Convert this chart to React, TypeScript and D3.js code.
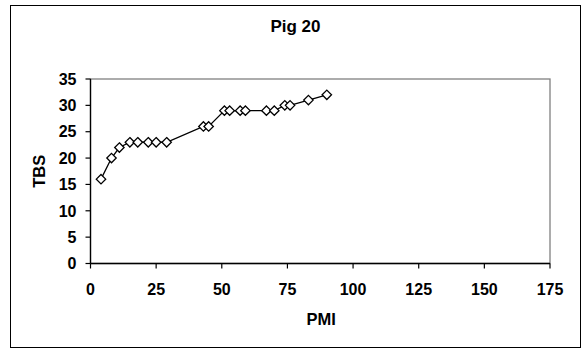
import React from "react";
import * as d3 from "d3";

const pmi = [4, 8, 11, 15, 18, 22, 25, 29, 43, 45, 51, 53, 57, 59, 67, 70, 74, 76, 83, 90];
const tbs = [16, 20, 22, 23, 23, 23, 23, 23, 26, 26, 29, 29, 29, 29, 29, 29, 30, 30, 31, 32];
const xTicks = [0, 25, 50, 75, 100, 125, 150, 175];
const yTicks = [0, 5, 10, 15, 20, 25, 30, 35];
const title = "Pig 20";
const xLabel = "PMI";
const yLabel = "TBS";

export default function App() {
  const W = 582, H = 349;
  const left = 90.5, right = 550, top = 79, bottom = 263.5;
  const x = d3.scaleLinear().domain([0, 175]).range([left, right]);
  const y = d3.scaleLinear().domain([0, 35]).range([bottom, top]);
  const pts = pmi.map((p, i) => [x(p), y(tbs[i])] as [number, number]);
  const line = d3.line()(pts) || "";
  const font = "'Liberation Sans', Arial, sans-serif";
  const r = 4.7;
  return (
    <svg width={W} height={H} style={{ position: "absolute", left: 0, top: 0 }}>
      <rect x={0} y={0} width={W} height={H} fill="white" />
      <rect x={10.5} y={5.5} width={570} height={342} fill="white" stroke="#000" strokeWidth={1} />
      <text x={295.5} y={32} textAnchor="middle" fontFamily={font} fontWeight="bold" fontSize={17}>{title}</text>
      <rect x={left} y={top} width={right - left} height={bottom - top} fill="none" stroke="#808080" strokeWidth={1.3} />
      <line x1={left} x2={left} y1={top} y2={bottom} stroke="#000" strokeWidth={1.3} />
      <line x1={left} x2={right} y1={bottom} y2={bottom} stroke="#000" strokeWidth={1.3} />
      {yTicks.map((t) => (
        <g key={"y" + t}>
          <line x1={left - 5} x2={left} y1={y(t)} y2={y(t)} stroke="#000" strokeWidth={1.2} />
          <text x={left - 14} y={y(t)} dy="0.36em" textAnchor="end" fontFamily={font} fontWeight="bold" fontSize={16}>{t}</text>
        </g>
      ))}
      {xTicks.map((t) => (
        <g key={"x" + t}>
          <line x1={x(t)} x2={x(t)} y1={bottom} y2={bottom + 5} stroke="#000" strokeWidth={1.2} />
          <text x={x(t)} y={289} dy="0.36em" textAnchor="middle" fontFamily={font} fontWeight="bold" fontSize={16}>{t}</text>
        </g>
      ))}
      <text x={(left + right) / 2 + 1} y={325} textAnchor="middle" fontFamily={font} fontWeight="bold" fontSize={16.5}>{xLabel}</text>
      <text transform={`translate(44.5, ${(top + bottom) / 2}) rotate(-90)`} textAnchor="middle" fontFamily={font} fontWeight="bold" fontSize={16.5}>{yLabel}</text>
      <path d={line} fill="none" stroke="#000" strokeWidth={1.3} />
      {pts.map(([px, py], i) => (
        <path key={i} d={`M${px},${py - r}L${px + r},${py}L${px},${py + r}L${px - r},${py}Z`} fill="white" stroke="#000" strokeWidth={1.3} />
      ))}
    </svg>
  );
}
